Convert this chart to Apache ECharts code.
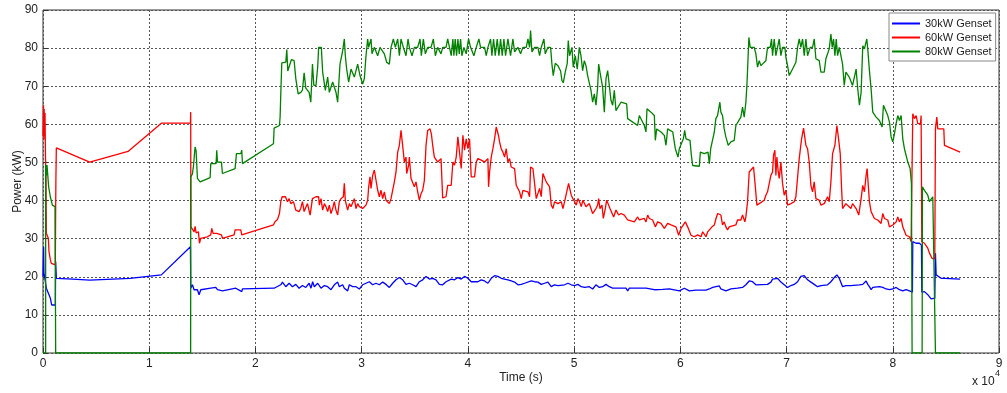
<!DOCTYPE html>
<html>
<head>
<meta charset="utf-8">
<title>Genset power</title>
<script src="https://cdn.jsdelivr.net/npm/echarts@6/dist/echarts.min.js"></script>
<style>
  html, body { margin: 0; padding: 0; background: #fff; }
  #chart { width: 1007px; height: 393px; }
</style>
</head>
<body>
<div id="chart"></div>
<script>
// Power output of each generator set, as [time (s), power (kW)] pairs.
const genset30kW = [
  [0,20],[40,20.5],[60,27.9],[90,21],[150,20],[282,20],[314,17],[470,17],[565,15.3],[690,14.4],[815,12.6],[1160,12.6],[1193,24],[1256,19.6],[2800,19.4],[4395,19.1],[8200,19.6],[11143,20.5],[13880,27.9],[13910,17],
  [14067,17.9],[14224,16.6],[14381,16.1],[14538,16.6],[14695,15.3],[14852,16.6],[15794,17],[16265,17.2],[16422,16.6],[16893,16.3],[18148,17],[18713,16.1],[18776,16.8],[21758,17],[22386,17.9],[22543,18.6],[22857,17.4],[23171,18.3],[23485,17.4],[23799,18],[24112,17],[24426,17.7],[24740,17.2],[25054,18.3],[25229,17],[25386,18.7],[25543,17.4],[25700,17.9],[25857,18.3],[26171,17],[26485,17.7],[26799,17.4],[27112,16.6],[27426,17.9],[27740,18.6],[27897,17.4],[28211,17.9],[28368,17],[28682,16.3],[28839,17.9],[29153,17.4],[29467,17.4],[29781,16.8],[30094,17.9],[30408,18.3],[30722,18.7],[31036,17.9],[31350,18.3],[31664,17.9],[31978,18.6],[32292,18],[32606,17.2],[32920,18.3],[33233,19.2],[33548,19.8],[33862,19.2],[34175,18],[34489,18.3],[34803,17.9],[35117,17.4],[35431,18.7],[35745,19.2],[36059,20.1],[36373,19.4],[36686,19.6],[37000,19.2],[37314,18],[37628,17.9],[37942,18.7],
  [38431,19.4],[38745,19.2],[39059,19.8],[39373,19.4],[39686,20.1],[40000,19.6],[40314,18.7],[40942,18.7],[41256,19.2],[41570,18.9],[41884,18.3],[42198,19.6],[42512,20.3],[42825,20.1],[43139,19.6],[43453,19.4],[43767,19.2],[44081,18.9],[44395,18.6],[44709,17.9],[45023,18],[45337,18.3],[45965,18.9],[46279,18.7],[46593,18.6],[46906,18],[47220,18.3],[47534,18.6],[47848,17.4],[48162,17.9],[48476,17.7],[49104,17.9],[49417,18.3],[49731,17.9],[50045,17.7],[50359,18],[50673,17.4],[50987,17.2],
  [51431,17.4],[51745,16.8],[52059,17.9],[52372,17.2],[52686,17.4],[53000,18],[53314,17.4],[53628,17],[54256,17],[54884,17],[55041,16.3],[55198,17],[56767,17],[56924,17.2],[57552,16.6],[58336,16.7],[58964,16.8],[59906,16.3],[60377,17],[60848,16.3],[61476,16.5],[62417,16.5],[62574,16],[62731,16.8],[63045,17.2],[63359,17.4],[63673,17.6],
  [63816,16.8],[64287,16.3],[64758,16.8],[65385,17],[65856,17.2],[66170,17.9],[66327,18.3],[66484,18.9],[66798,18.7],[67112,17.9],[67269,17.4],[68210,18],[68524,18.6],[68681,19.4],[68838,19.2],[69152,19.6],[69466,18.6],[69780,17.9],[70094,17.2],[70408,17.7],[70722,18],[71036,18.7],[71350,20.1],[71664,20.3],[71977,19.2],[72291,18.6],[72605,18],[72919,17.4],[73233,17.7],[73861,17.9],[74175,18.7],[74489,19.8],[74740,20.5],[74960,19.6],[75274,17.4],[75587,17.7],[76058,17.7],
  [76233,17.9],[76861,17.9],[77175,18],[77489,18.9],[77645,18],[77802,17.4],[77959,16.6],[78116,17.2],[78744,17.4],[79058,17.2],[79372,16.8],[79686,16.6],[80000,16.8],[80314,17.2],[80628,16.6],[80941,16.3],[81255,16.6],[81569,16.3],[81757,16],[81851,16],[81883,29.2],[82197,28.8],[82511,28.8],[82700,28.3],[82731,16],[82982,16.1],[83296,15.3],[83610,14.2],[83955,14.4],[84018,26.2],[84081,20.5],[84238,20.1],[84552,19.6],[84865,19.6],[86341,19.4]
];

const genset60kW = [
  [0,57],[50,65],[80,56],[110,64],[150,57],[190,63],[230,52],[282,46.2],[314,31.4],[400,31],[502,30.1],[565,26.6],[690,24.5],[785,23.5],[880,23.1],[1160,23.1],[1193,38.4],[1215,45.8],[1256,53.8],[4395,50.1],[8004,52.9],[11143,60.3],[13880,60.3],[13905,63.2],[13915,46.2],[13925,33.1],
  [14067,33.6],[14224,31.8],[14319,33.2],[14413,31.5],[14538,31],[14633,31.8],[14727,28.8],[14852,30.1],[15480,30.5],[15794,31],[15888,32.7],[16013,31.4],[16359,31.4],[16484,31],[16798,31],[16893,30.1],[17991,31],[18085,32.3],[18619,32.3],[18713,31],[18776,31.4],[21695,33.6],[21821,34.4],[22072,35],[22261,36.6],[22386,39.7],[22511,41],[22825,41],[23013,39.7],[23171,40.5],[23328,39.2],[23579,39.7],[23799,37.5],[24112,37.1],[24269,38],[24426,39.7],[24583,37.1],[24897,39.2],[25148,36.2],[25368,40.5],
  [25700,41],[25951,41],[26014,38.8],[26171,40.5],[26328,37.5],[26485,39.2],[26642,38.4],[26799,37.1],[26955,38.8],[27112,36.6],[27269,37.9],[27426,39.7],[27583,37.5],[27740,36.2],[27897,39.7],[28054,40.5],[28274,41],[28368,44.5],[28462,40],[28682,37.5],[28839,39.2],[28996,38.4],[29153,38.8],[29310,40.5],[29467,37.9],[29624,39.2],[29781,38.4],[29937,38.8],[30094,37.9],[30408,38.8],[30565,40.1],[30659,43.6],[30785,46.2],[30879,43.2],[31036,46.6],[31193,48],[31350,48.4],[31507,42.7],[31664,41],[31821,42.7],[31978,40.5],[32135,42.3],[32292,40.1],[32449,39.7],[32606,39.2],[32763,40.5],[32920,41],[33076,44.9],[33233,47.5],[33391,52.7],[33548,54.5],[33705,58.4],[33799,58.4],[33924,52.7],[34018,50.1],[34175,51.4],[34238,47.1],[34426,49.3],[34489,51.4],[34646,45.8],[34803,45.3],[34960,43.6],[35117,44.9],[35274,42.3],[35431,40.1],[35588,41.8],[35745,42.7],[35902,45.3],[36059,54.5],[36215,58.4],[36435,58.8],[36561,57.5],[36686,54.5],[36843,51.4],[37000,51],[37157,50.1],[37471,51],[37628,40.7],[37942,41],[38099,44],
  [38431,44],[38588,50.1],[38745,49.3],[38902,51.4],[39059,56.7],[39216,56.2],[39373,48.4],[39530,57.1],[39686,53.2],[39843,56.2],[40000,53.6],[40157,56.2],[40314,46.2],[40471,45.8],[40628,46.2],[40785,50.1],[40942,51],[41256,50.6],[41570,50.1],[41884,51],[41946,43.6],[42041,47.5],[42198,51.4],[42355,53.6],[42512,56.2],[42668,59.3],[42762,59.7],[42888,57],[42982,55.4],[43139,53.6],[43296,52.7],[43453,51.4],[43610,53.6],[43767,50.1],[43924,51],[44081,48.8],[44238,49.3],[44395,48.4],[44552,44],[44709,43.6],[44866,42.3],[45023,40.5],[45180,42.7],[45337,42.3],[45651,42.3],[45808,41],[45902,48.8],[46122,48.4],[46279,48.4],[46436,40.5],[46593,40.5],[46749,43.2],[46906,41],[47063,47.1],[47220,47.5],[47377,44.9],[47534,44.9],[47691,43.6],[47848,38.8],[48005,37.9],[48162,39.7],[48476,39.2],[48790,39.7],[48947,37.9],[49104,39.7],[49261,40.1],[49480,44.5],[49574,44],[49731,41.4],[49888,40.5],[50045,39.7],[50202,38.8],[50359,40.5],[50516,39.7],[50673,38.4],[50830,40.1],
  [51117,38.4],[51274,37.9],[51431,39.2],[51588,37.9],[51745,36.6],[51902,37.1],[52059,37.9],[52215,38.8],[52310,40.5],[52435,37.9],[52624,38.8],[52749,35.3],[52937,37.9],[53063,40.1],[53251,38.8],[53377,37.9],[53565,38.4],[53722,35.7],[53942,37.5],[54193,36.2],[54413,36.6],[54727,36.2],[55041,34.9],[55669,34.4],[55982,35.7],[56139,34.9],[56610,35.3],[56767,34.4],[56924,36.2],[57081,35.3],[57395,34.9],[57646,33.1],[57866,34.4],[58180,34],[58493,32.7],[58807,34],[59121,33.6],[59592,33.1],[59843,30.9],[60063,32.7],[60220,33.1],[60471,34.4],[60691,33.1],[61005,30.9],[61319,30.5],[61633,31],[61946,30.5],[62103,31.8],[62417,30.5],[62574,31.8],[62982,33.1],[63202,33.6],[63359,35.3],[63516,36.6],
  [63816,36.2],[63973,33.6],[64130,34.4],[64287,33.1],[64444,32.3],[64601,33.1],[65228,33.6],[65385,34.9],[65699,34.9],[65856,36.2],[66076,34.4],[66170,35.7],[66327,39.7],[66484,47.5],[66892,48.8],[67049,44],[67206,38.8],[67426,39.2],[67897,40.1],[68053,41.4],[68210,42.3],[68367,42.7],[68524,46.6],[68681,47.5],[68775,51.9],[68901,53.2],[68995,46.6],[69089,51.4],[69215,47.5],[69309,45.8],[69466,50.1],[69623,44.5],[69780,41.4],[69937,42.7],[70094,38.8],[70251,38.4],[70408,39.2],[70722,39.7],[70879,41],[71193,51],[71413,56.2],[71601,59],[71821,54.5],[71977,53.6],[72134,50.1],[72291,44],[72448,42.3],[72605,44.9],[72762,40.5],[73076,40.1],[73233,38.8],[73547,39.2],[73704,38.8],[73861,41],[74018,39.7],[74175,44.9],[74332,52.3],[74552,54.5],[74740,59.7],[74897,56.2],[75054,52.3],[75179,43.2],[75274,37.9],[75587,39.2],[75744,38.8],[76058,37.9],[76215,39.2],
  [76547,37.9],[76798,36.2],[77018,40.5],[77175,44],[77332,42.3],[77489,46.6],[77583,48.4],[77645,46],[77802,39.7],[77959,37.1],[78273,35.3],[78587,34.9],[78901,34],[79058,36.6],[79215,35.3],[79529,34.9],[79686,33.1],[79843,32.7],[80000,33.6],[80314,34.4],[80471,35.7],[80628,34.4],[80785,35.3],[80941,33.1],[81255,30.9],[81569,30.5],[81726,29.2],[81820,29.2],[81883,62.8],[82040,61.5],[82197,62.3],[82354,60.2],[82605,60.2],[82668,62.3],[82731,29.2],[82982,28.8],[83296,27.5],[83453,26.2],[83704,24.8],[83955,24.8],[84018,58.8],[84144,61.9],[84238,58.8],[84803,58.8],[84865,54.5],[86341,52.7]
];

const genset80kW = [
  [0,0],[250,0],[251,49.3],[314,46.6],[377,49.3],[470,49.3],[533,43.6],[628,43.2],[690,41],[815,40.5],[880,38.8],[1130,38.4],[1193,38.4],[1194,0],[13900,0],[13910,46.2],
  [14067,47],[14162,49],[14319,54.1],[14413,53],[14538,45.8],[14790,44.9],[15731,46],[15794,49.7],[16296,49.7],[16359,53.2],[16422,50.1],[16798,50.1],[16893,47.1],[18085,48.4],[18211,52.3],[18619,52.3],[18713,53.2],[18776,49.7],[21695,54.9],[21758,59],[22261,59.7],[22323,62],[22386,68],[22480,76.1],[22857,76.3],[22951,79.6],[23045,74],[23171,73.7],[23390,77],[23641,76.7],[23799,72],[24018,68],[24269,68.4],[24426,69],[24583,73.5],[24740,69.5],[25054,68.4],[25211,65.8],[25368,75.8],
  [25500,70.2],[25700,70.2],[25857,75],[25951,80.2],[26202,80.2],[26328,73.7],[26579,68.9],[26799,72.4],[26955,68.4],[27269,71.1],[27583,68.4],[27740,65.8],[27960,75.8],[28211,79.3],[28368,82.4],[28462,78],[28588,74.5],[28776,71.1],[28996,74.5],[29310,72.4],[29624,75.8],[29843,72.8],[30094,70.6],[30251,72],[30408,78],[30565,82.4],[30659,80.2],[30879,82.4],[30973,78.5],[31193,80.2],[31507,78],[31727,80.2],[32135,78.5],[32355,76.3],[32606,75.8],[32763,80.2],[32983,82.4],[33171,80.2],[33391,82.4],[33548,78],[33705,82.4],[33924,80.2],[34175,78],[34364,82.4],[34489,80.2],[34740,78],[34960,80.2],[35274,80.2],[35494,82.4],[35619,78],[35808,82.4],[35996,78.5],[36215,80.2],[36529,80.2],[36749,82.4],[36937,78],[37157,80.2],[37471,78.5],[37628,80.2],[37942,80.2],[38099,82.4],
  [38431,78],[38588,82.4],[38682,78],[38807,82.4],[38933,78],[39059,82.4],[39184,78.5],[39310,82.4],[39435,78],[39624,80.2],[39843,78.5],[40063,82.4],[40251,80.2],[40565,78],[40785,80.2],[41036,82.4],[41193,80.2],[41570,80.2],[41727,78],[41884,80.2],[42135,82.4],[42261,78],[42418,82.4],[42574,78],[42763,82.4],[42920,78],[43077,82.4],[43233,78],[43390,82.4],[43547,78],[43767,82.4],[44018,78],[44238,82.4],[44395,79],[44709,80.2],[44960,78.5],[45180,80.2],[45494,80.2],[45651,82.4],[45808,80.2],[45902,84.6],[46028,79],[46279,80.2],[46593,80.2],[46749,78],[46906,80.2],[47157,82.4],[47283,78.5],[47534,80.2],[47785,80.2],[47911,75.8],[48036,72.8],[48225,76],[48476,75.4],[48727,74],[48852,71.5],[48978,70.9],[49166,73.7],[49355,76],[49449,82],[49574,78],[49794,80.2],[49920,75],[50108,78],[50297,74.5],
  [50489,80.2],[50646,78],[50803,74.1],[50960,76.7],[51117,75.4],[51274,72.8],[51588,68.9],[51745,65.8],[51902,68],[52059,65],[52215,69.7],[52310,75.8],[52435,73.7],[52686,69.7],[52843,63.2],[53000,71.9],[53157,74.1],[53314,70.2],[53471,66.3],[53628,65],[53785,68.9],[53942,63.6],[54099,63.2],[54413,65.8],[54946,65.4],[55041,61.5],[55982,59.7],[56139,62.3],[56296,61.9],[56610,59.7],[56767,58],[56861,64.1],[57238,63.2],[57552,62.3],[57646,55.8],[57772,58.8],[58180,58],[58493,57.1],[58650,54.5],[58807,58.8],[59284,58],[59529,53.6],[59780,51.4],[59906,53.6],[60283,56.2],[60408,58.4],[60534,56.2],[60911,55.8],[61036,51.9],[61162,49.2],[61789,49],[61883,52.7],[62260,52.3],[62605,52.7],[62731,49.7],[62857,53.6],[63045,54],[63202,58],
  [63345,61.5],[63502,62.3],[63722,65.8],[63816,63.2],[63973,62.3],[64130,58.8],[64287,56.7],[64506,54.5],[64758,55.4],[65071,55.8],[65228,59.7],[65385,60.2],[65699,61.9],[65856,64.5],[66013,61.9],[66170,65.8],[66264,70.2],[66327,74.1],[66453,82.8],[66578,80.2],[66955,80.2],[67112,78.5],[67269,75],[67426,76.7],[67583,75.4],[68053,76.7],[68210,80.2],[68461,80.2],[68587,82.4],[68681,78],[68838,82.4],[68995,78],[69152,80.2],[69309,82.4],[69466,78],[69623,80.2],[69843,80.2],[69937,77.6],[70094,75.4],[70251,72.8],[70565,74.5],[70879,76.3],[71036,80.2],[71193,82.4],[71350,80.2],[71507,82.4],[71664,78],[71821,82.4],[71977,78],[72228,80.2],[72448,80.2],[72605,82.4],[72762,77.2],[73076,76.7],[73233,73.7],[73547,73.7],[73704,77.2],[74018,79.8],[74175,83.7],[74300,80.2],[74426,82.4],[74552,78],[74677,82.4],[74803,78],[74960,80.2],[75117,78],[75274,75.8],[75430,70.2],[75587,73.7],[75901,72.4],[76215,70.2],
  [76547,74.5],[76704,69.3],[76861,65],[77018,68.4],[77175,80.6],[77332,79.8],[77551,82.4],[77645,79.8],[77802,74.1],[77959,69.3],[78116,63.2],[78430,61.9],[78744,61],[78995,59.3],[79121,65],[79309,65.4],[79529,62.3],[79686,60.6],[79843,56.7],[80000,55.4],[80157,57.5],[80314,60.2],[80471,62.3],[80628,61],[80785,62.3],[80941,56.2],[81098,53.6],[81412,50.1],[81632,48.4],[81757,44.5],[81820,0],[82762,0],[82793,43.6],[82982,42.7],[83296,41.4],[83453,39.7],[83610,39.2],[83767,41],[83924,40.5],[83987,40.5],[84018,0],[86341,0]
];

const seriesNames = ['30kW Genset', '60kW Genset', '80kW Genset'];
const seriesColors = ['#0000ff', '#ff0000', '#008000'];
const timeTicks = [0, 10000, 20000, 30000, 40000, 50000, 60000, 70000, 80000, 90000];
const powerTicks = [0, 10, 20, 30, 40, 50, 60, 70, 80, 90];

const FONT = '"Liberation Sans", Arial, Helvetica, sans-serif';
const chart = echarts.init(document.getElementById('chart'), null, { renderer: 'canvas' });

const gridLine = { show: true, lineStyle: { color: '#555', type: [2, 2], width: 1 } };

chart.setOption({
  animation: false,
  backgroundColor: '#fff',
  textStyle: { fontFamily: FONT },
  grid: {
    left: 43, right: 8, top: 10, bottom: 40,
    containLabel: false,
    outerBoundsMode: 'none',
    show: true, borderColor: '#333', borderWidth: 1, backgroundColor: '#fff'
  },
  legend: {
    data: seriesNames,
    orient: 'vertical',
    left: 889, top: 13,
    icon: 'rect',
    itemWidth: 28, itemHeight: 2, itemGap: 1,
    padding: [4, 4, 3, 3],
    backgroundColor: '#fff',
    borderColor: '#888', borderWidth: 1,
    textStyle: { fontSize: 11, color: '#222', lineHeight: 13, fontFamily: FONT }
  },
  xAxis: {
    type: 'value',
    min: timeTicks[0], max: timeTicks[timeTicks.length - 1],
    interval: timeTicks[1] - timeTicks[0],
    name: 'Time (s)', nameLocation: 'middle', nameGap: 19, nameMoveOverlap: false,
    nameTextStyle: { fontSize: 12, color: '#222', fontFamily: FONT },
    axisLine: { show: false },
    axisTick: { show: true, inside: true, length: 5, lineStyle: { color: '#333' } },
    axisLabel: { fontSize: 12, color: '#222', margin: 5, fontFamily: FONT,
                 formatter: v => String(v / 10000) },
    splitLine: gridLine
  },
  yAxis: {
    type: 'value',
    min: powerTicks[0], max: powerTicks[powerTicks.length - 1],
    interval: powerTicks[1] - powerTicks[0],
    name: 'Power (kW)', nameLocation: 'middle', nameGap: 19, nameRotate: 90, nameMoveOverlap: false,
    nameTextStyle: { fontSize: 12, color: '#222', fontFamily: FONT },
    axisLine: { show: false },
    axisTick: { show: true, inside: true, length: 5, lineStyle: { color: '#333' } },
    axisLabel: { fontSize: 12, color: '#222', margin: 5, fontFamily: FONT },
    splitLine: gridLine
  },
  graphic: [
    { type: 'text', left: 972, top: 376, style: { text: 'x 10', fontSize: 12, fill: '#222', font: '12px ' + FONT } },
    { type: 'text', left: 995, top: 369, style: { text: '4', fontSize: 9, fill: '#222', font: '9px ' + FONT } }
  ],
  series: [genset30kW, genset60kW, genset80kW].map((data, i) => ({
    name: seriesNames[i],
    type: 'line',
    data: data,
    showSymbol: false,
    symbol: 'none',
    clip: true,
    z: 2 + i,
    lineStyle: { color: seriesColors[i], width: 1.3 },
    itemStyle: { color: seriesColors[i] }
  }))
});
</script>
</body>
</html>
